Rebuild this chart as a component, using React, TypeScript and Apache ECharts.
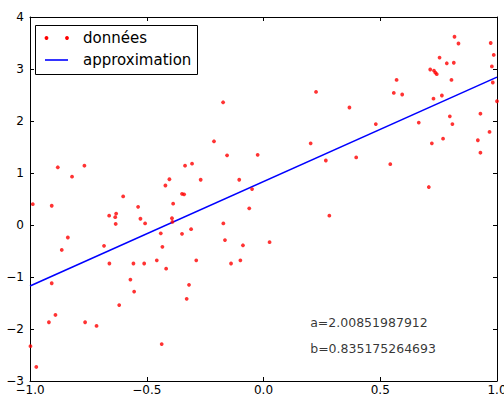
import React, { useEffect, useRef } from "react";
import * as echarts from "echarts";

const pointsX = [
  -0.881, -0.82, -0.767, -0.601, -0.42, -0.403,
  -0.173, 0.225, -0.212, -0.156, -0.025, 0.202, 0.267, -0.336, -0.306, -0.269, -0.104, -0.049, -0.349, -0.34,
  0.818, 0.835, 0.973, 0.986, 0.978, 0.982, 1.0, 0.754, 0.785, 0.815, 0.714, 0.73, 0.736, 0.742, 0.57, 0.805,
  0.558, 0.594, 0.728, 0.764, 0.368, 0.481, 0.665, 0.798, 0.809, 0.929, 0.968, 0.918, 0.929, 0.769, 0.721,
  0.397, 0.543, 0.708,
  -0.988, -0.907, -0.661, -0.631, -0.635, -0.633, -0.537, -0.527, -0.507, -0.44, -0.433, -0.457, -0.417,
  -0.838, -0.864, -0.683, -0.66, -0.557, -0.511, -0.57, -0.554, -0.907, -0.618, -0.891, -0.919, -0.764,
  -0.715, -0.436, -0.998, -0.973,
  -0.387, -0.061, -0.392, -0.39, 0.282, -0.349, -0.31, -0.172, -0.165, -0.088, 0.026, -0.288, -0.139, -0.099,
  -0.319, -0.329,
];
const pointsY = [
  1.11, 0.93, 1.14, 0.55, 0.76, 0.88,
  2.36, 2.56, 1.61, 1.34, 1.35, 1.57, 1.24, 1.14, 1.18, 0.87, 0.87, 0.69, 0.6, 0.59,
  3.62, 3.49, 3.5, 3.27, 3.05, 2.74, 2.38, 3.22, 3.11, 3.12, 2.99, 2.97, 2.93, 2.9, 2.79, 2.79,
  2.54, 2.51, 2.43, 2.49, 2.26, 1.94, 1.97, 2.09, 1.94, 2.14, 1.79, 1.63, 1.39, 1.66, 1.57,
  1.3, 1.17, 0.73,
  0.4, 0.37, 0.18, 0.22, 0.15, 0.02, 0.35, 0.12, 0.03, -0.16, -0.42, -0.68, -0.84,
  -0.24, -0.48, -0.4, -0.74, -0.74, -0.74, -1.05, -1.28, -1.12, -1.54, -1.73, -1.87, -1.87,
  -1.94, -2.29, -2.33, -2.73,
  0.41, 0.32, 0.13, 0.06, 0.18, -0.17, -0.08, 0.03, -0.29, -0.39, -0.33, -0.68, -0.74, -0.68,
  -1.15, -1.42,
];

const lineX = [-1.0, 1.0];
const lineY = [-1.173, 2.844];

const labelA = "a=2.00851987912";
const labelB = "b=0.835175264693";
const labelPos = [
  [0.2, -2.0],
  [0.2, -2.5],
];

const legendNames = ["données", "approximation"];

const FONT = "DejaVu Sans";

const fmt = (v: number, d: number) => v.toFixed(d).replace("-", "\u2212");

export default function App() {
  const ref = useRef<HTMLDivElement>(null);
  useEffect(() => {
    if (!ref.current) return;
    const chart = echarts.init(ref.current, null, { renderer: "svg" });
    const baseAxis = {
      type: "value" as const,
      splitLine: { show: false },
      axisLine: { show: true, onZero: false, lineStyle: { color: "#000", width: 1 } },
      axisTick: { show: true, inside: true, length: 4, lineStyle: { color: "#000", width: 1 } },
    };
    chart.setOption({
      animation: false,
      backgroundColor: "#fff",
      grid: {
        left: 30,
        right: 7,
        top: 17,
        bottom: 13,
        containLabel: false,
        outerBoundsMode: "none",
      },
      xAxis: [
        {
          ...baseAxis,
          position: "bottom",
          min: -1,
          max: 1,
          interval: 0.5,
          axisLabel: {
            show: true,
            margin: 3,
            fontFamily: FONT,
            fontSize: 12,
            color: "#000",
            formatter: (v: number) => fmt(v, 1),
          },
        },
        {
          ...baseAxis,
          position: "top",
          min: -1,
          max: 1,
          interval: 0.5,
          axisLabel: { show: false },
        },
      ],
      yAxis: [
        {
          ...baseAxis,
          position: "left",
          min: -3,
          max: 4,
          interval: 1,
          axisLabel: {
            show: true,
            margin: 6,
            fontFamily: FONT,
            fontSize: 12,
            color: "#000",
            formatter: (v: number) => fmt(v, 0),
          },
        },
        {
          ...baseAxis,
          position: "right",
          min: -3,
          max: 4,
          interval: 1,
          axisLabel: { show: false },
        },
      ],
      series: [
        {
          name: legendNames[0],
          type: "scatter",
          symbol: "circle",
          symbolSize: 3.8,
          itemStyle: { color: "#ff0000" },
          data: pointsX.map((x, i) => [x, pointsY[i]]),
          z: 3,
        },
        {
          name: legendNames[1],
          type: "line",
          showSymbol: false,
          symbol: "none",
          lineStyle: { color: "#0000ff", width: 1.6 },
          data: lineX.map((x, i) => [x, lineY[i]]),
          z: 2,
        },
        {
          type: "scatter",
          symbolSize: 0,
          silent: true,
          data: [
            { value: labelPos[0], name: labelA },
            { value: labelPos[1], name: labelB },
          ],
          label: {
            show: true,
            position: [0, 0],
            align: "left",
            verticalAlign: "bottom",
            fontFamily: FONT,
            fontSize: 12.5,
            color: "#000",
            formatter: (p: any) => p.name,
          },
        },
      ],
      graphic: [
        {
          type: "rect",
          shape: { x: 35.5, y: 25.5, width: 162, height: 49 },
          style: { fill: "#fff", stroke: "#000", lineWidth: 1 },
          z: 10,
        },
        { type: "circle", shape: { cx: 46.5, cy: 38, r: 1.9 }, style: { fill: "#ff0000" }, z: 11 },
        { type: "circle", shape: { cx: 67, cy: 38, r: 1.9 }, style: { fill: "#ff0000" }, z: 11 },
        {
          type: "line",
          shape: { x1: 45, y1: 60, x2: 68, y2: 60 },
          style: { stroke: "#0000ff", lineWidth: 1.6 },
          z: 11,
        },
        {
          type: "text",
          x: 83,
          y: 38,
          style: {
            text: legendNames[0],
            fontFamily: FONT,
            fontSize: 15,
            fill: "#000",
            verticalAlign: "middle",
            align: "left",
          },
          z: 11,
        },
        {
          type: "text",
          x: 83,
          y: 60,
          style: {
            text: legendNames[1],
            fontFamily: FONT,
            fontSize: 15,
            fill: "#000",
            verticalAlign: "middle",
            align: "left",
          },
          z: 11,
        },
      ],
    });
    return () => chart.dispose();
  }, []);
  return (
    <div
      ref={ref}
      style={{ position: "fixed", left: 0, top: 0, width: 504, height: 394 }}
    />
  );
}
